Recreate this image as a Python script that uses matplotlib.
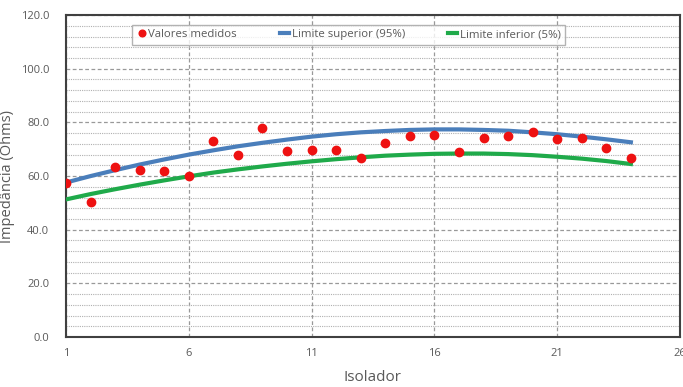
import numpy as np
import matplotlib.pyplot as plt
from matplotlib.ticker import MultipleLocator

plt.rcParams['font.family'] = ['Open Sans', 'DejaVu Sans']

# measured impedance per insulator
isolador = list(range(1, 25))
medidos = [57.4, 50.4, 63.5, 62.1, 61.9, 60.1, 73.2, 67.7, 77.8, 69.5, 69.6, 69.8,
           66.9, 72.4, 74.8, 75.4, 68.9, 74.3, 74.8, 76.3, 74.0, 74.1, 70.5, 66.6]
# confidence limits
lim_sup = [57.6, 60.0, 62.2, 64.3, 66.2, 68.0, 69.6, 71.1, 72.4, 73.6, 74.7, 75.6,
           76.3, 76.8, 77.2, 77.4, 77.4, 77.2, 76.9, 76.3, 75.6, 74.7, 73.7, 72.6]
lim_inf = [51.3, 53.3, 55.1, 56.8, 58.4, 59.9, 61.3, 62.5, 63.6, 64.6, 65.5, 66.3,
           67.0, 67.6, 68.0, 68.3, 68.4, 68.4, 68.2, 67.8, 67.2, 66.5, 65.6, 64.5]

cinza = '#595959'

fig = plt.figure(figsize=(6.83, 3.87), dpi=100)
ax = fig.add_axes([0.0966, 0.129, 0.899, 0.832])

ax.plot(isolador, lim_sup, '-', color='#4a7ebb', linewidth=3, label='Limite superior (95%)', zorder=3)
ax.plot(isolador, lim_inf, '-', color='#1faa4a', linewidth=3, label='Limite inferior (5%)', zorder=3)
ax.plot(isolador, medidos, 'o', color='#ee1111', markersize=6, label='Valores medidos', zorder=4)

ax.set_xlim(1, 26)
ax.set_ylim(0, 120)
ax.set_xticks([1, 6, 11, 16, 21, 26])
ax.yaxis.set_major_locator(MultipleLocator(20))
ax.yaxis.set_minor_locator(MultipleLocator(4))
ax.set_yticklabels(['%.1f' % v for v in ax.get_yticks()])

ax.grid(axis='y', which='major', linestyle=(0, (3, 2)), color='#999999', linewidth=0.9)
ax.grid(axis='y', which='minor', linestyle=(0, (1, 1)), color='#b0b0b0', linewidth=0.8)
ax.grid(axis='x', which='major', linestyle=(0, (3, 2)), color='#999999', linewidth=0.9)
ax.set_axisbelow(True)

ax.tick_params(which='both', length=0, labelsize=8, colors=cinza, pad=8)
ax.tick_params(axis='y', pad=12)
for s in ax.spines.values():
    s.set_color('#404040')
    s.set_linewidth(1.5)

ax.set_xlabel('Isolador', fontsize=11, color=cinza, labelpad=8)
ax.set_ylabel('Impedância (Ohms)', fontsize=10.5, color=cinza)
ax.yaxis.set_label_coords(-0.083, 0.5)

h, l = ax.get_legend_handles_labels()
order = [2, 0, 1]
leg = ax.legend([h[i] for i in order], [l[i] for i in order], ncol=3, fontsize=8.2,
                loc='upper left', bbox_to_anchor=(0.099, 0.988), frameon=True, fancybox=False,
                handlelength=0.8, handletextpad=0.2, columnspacing=3.8, borderpad=0.4,
                markerscale=0.8)
leg.get_frame().set_edgecolor('#a0a0a0')
leg.get_frame().set_linewidth(1.0)
for t in leg.get_texts():
    t.set_color(cinza)

fig.savefig('out.png', dpi=100)
